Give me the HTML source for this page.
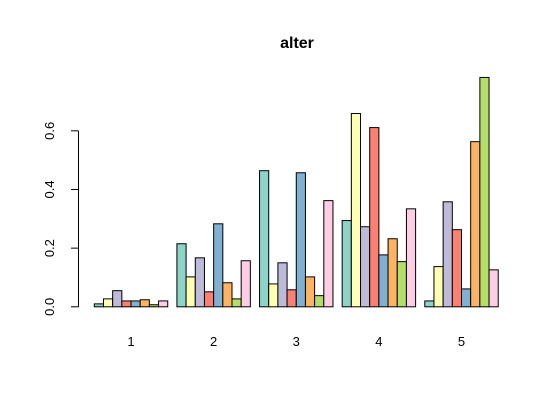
<!DOCTYPE html>
<html><head><meta charset="utf-8"><style>
body{margin:0;background:#fff}
svg text{font-family:"Liberation Sans",Arial,sans-serif}
</style></head><body>
<svg id="chart" width="555" height="408" xmlns="http://www.w3.org/2000/svg">
<rect width="555" height="408" fill="#fff"/>
<text x="297" y="48" text-anchor="middle" font-size="16" font-weight="bold">alter</text>
<g id="bars"></g>
<g id="axes"></g>
</svg>
<script>
const categories = ["1","2","3","4","5"];
const s1 = [0.010,0.215,0.464,0.294,0.020];
const s2 = [0.027,0.102,0.078,0.659,0.137];
const s3 = [0.055,0.167,0.150,0.273,0.358];
const s4 = [0.020,0.051,0.058,0.611,0.263];
const s5 = [0.020,0.283,0.457,0.177,0.061];
const s6 = [0.024,0.082,0.102,0.232,0.563];
const s7 = [0.007,0.027,0.038,0.154,0.782];
const s8 = [0.020,0.157,0.362,0.334,0.126];
const yTicks = [0,0.2,0.4,0.6];
const yTickLabels = ["0.0","0.2","0.4","0.6"];

const series=[s1,s2,s3,s4,s5,s6,s7,s8];
const colors=["#8DD3C7","#FFFFB3","#BEBADA","#FB8072","#80B1D3","#FDB462","#B3DE69","#FCCDE5"];
const NS="http://www.w3.org/2000/svg";
const y0=306.8, yPer=293.3, x0=94.3, bw=9.18;
const yScale=v=>y0-v*yPer;
const xScale=(g,s)=>x0+(g*9+s)*bw;
const bars=document.getElementById('bars');
categories.forEach((c,g)=>{
  series.forEach((arr,s)=>{
    const r=document.createElementNS(NS,'rect');
    const v=arr[g];
    r.setAttribute('x',xScale(g,s));
    r.setAttribute('y',yScale(v));
    r.setAttribute('width',bw);
    r.setAttribute('height',Math.max(0,y0-yScale(v)));
    r.setAttribute('fill',colors[s]);
    r.setAttribute('stroke','#000');
    r.setAttribute('stroke-width','1');
    
    
    bars.appendChild(r);
  });
  const t=document.createElementNS(NS,'text');
  t.setAttribute('x',xScale(g,4));
  t.setAttribute('y',346);
  t.setAttribute('text-anchor','middle');
  t.setAttribute('font-size','13');
  t.textContent=c;
  
  
  bars.appendChild(t);
});
const axes=document.getElementById('axes');
const line=document.createElementNS(NS,'line');
line.setAttribute('x1',78.5);line.setAttribute('x2',78.5);
line.setAttribute('y1',yScale(yTicks[0]));line.setAttribute('y2',yScale(yTicks[yTicks.length-1]));
line.setAttribute('stroke','#000');


axes.appendChild(line);
yTicks.forEach((v,i)=>{
  const y=yScale(v);
  const tk=document.createElementNS(NS,'line');
  tk.setAttribute('x1',71);tk.setAttribute('x2',78.5);
  tk.setAttribute('y1',y);tk.setAttribute('y2',y);
  tk.setAttribute('stroke','#000');
  
  
  axes.appendChild(tk);
  const t=document.createElementNS(NS,'text');
  t.setAttribute('transform','translate(54,'+y+') rotate(-90)');
  t.setAttribute('text-anchor','middle');
  t.setAttribute('font-size','13');
  t.textContent=yTickLabels[i];
  
  
  axes.appendChild(t);
});
</script>
</body></html>
